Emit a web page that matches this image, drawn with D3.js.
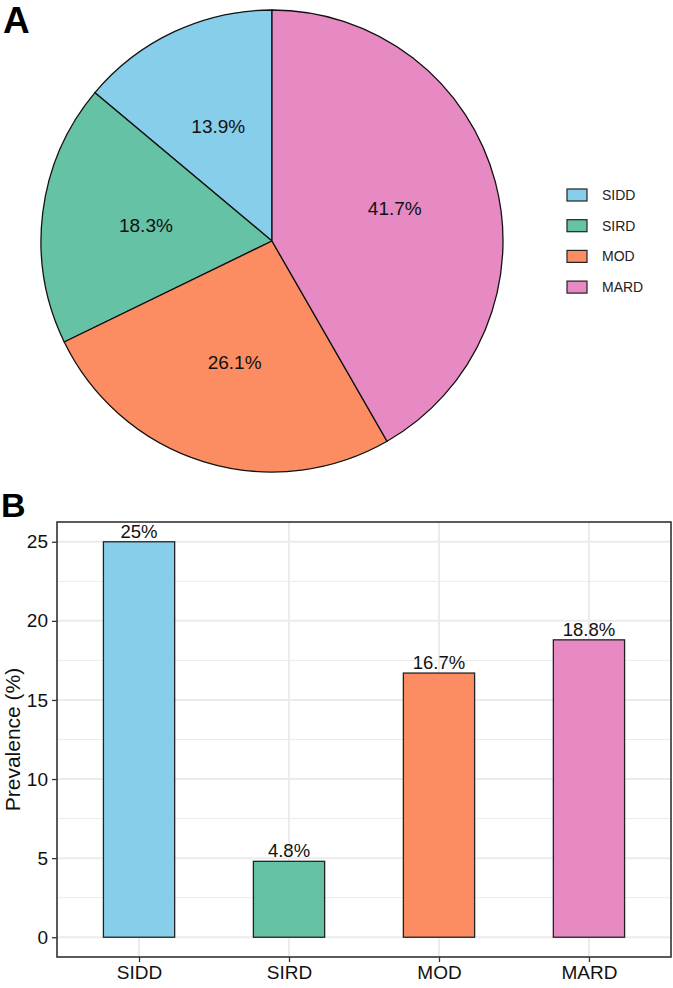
<!DOCTYPE html>
<html>
<head>
<meta charset="utf-8">
<script src="https://cdn.jsdelivr.net/npm/d3@7"></script>
<style>
  body { margin: 0; background: #fff; }
  svg { font-family: "Liberation Sans", Arial, sans-serif; }
</style>
</head>
<body>
<svg id="chart" width="673" height="988"></svg>
<script>
// data
var categories = ["SIDD", "SIRD", "MOD", "MARD"];
var colors = ["#87CEEB", "#66C2A5", "#FC8D62", "#E78AC3"];
var share = [13.9, 18.3, 26.1, 41.7];       // panel A, % of patients
var prevalence = [25, 4.8, 16.7, 18.8];     // panel B
var prevLabels = ["25%", "4.8%", "16.7%", "18.8%"];
var yTicks = [0, 5, 10, 15, 20, 25];
var yMinor = [2.5, 7.5, 12.5, 17.5, 22.5];

var svg = d3.select("#chart");

// ---- Panel A: pie ----
var cx = 272, cy = 241, r = 231;

var pie = d3.pie()
    .sort(null)
    .value(function(d) { return d; })
    .startAngle(0)
    .endAngle(-2 * Math.PI);   // counter-clockwise like the original

var arc = d3.arc().innerRadius(0).outerRadius(r);
var labelArc = d3.arc().innerRadius(r * 0.55).outerRadius(r * 0.55);

var gPie = svg.append("g").attr("transform", "translate(" + cx + "," + cy + ")");

var arcs = pie(share);

gPie.selectAll("path")
    .data(arcs)
    .enter()
    .append("path")
    .attr("d", arc)
    .attr("fill", function(d, i) { return colors[i]; })
    .attr("stroke", "#111")
    .attr("stroke-width", 1.3);

gPie.selectAll("text")
    .data(arcs)
    .enter()
    .append("text")
    .attr("transform", function(d) { return "translate(" + labelArc.centroid(d) + ")"; })
    .attr("text-anchor", "middle")
    .attr("dy", "0.35em")
    .attr("font-size", 19)
    .attr("fill", "#111")
    .text(function(d) { return d.data + "%"; });

// legend
var legend = svg.append("g").attr("transform", "translate(567,189)");
var legItem = legend.selectAll("g")
    .data(categories)
    .enter()
    .append("g")
    .attr("transform", function(d, i) { return "translate(0," + (i * 30.7) + ")"; });

legItem.append("rect")
    .attr("width", 20)
    .attr("height", 12)
    .attr("fill", function(d, i) { return colors[i]; })
    .attr("stroke", "#222")
    .attr("stroke-width", 1.2);

legItem.append("text")
    .attr("x", 35)
    .attr("y", 6)
    .attr("dy", "0.35em")
    .attr("font-size", 14)
    .attr("fill", "#222")
    .text(function(d) { return d; });

svg.append("text")
    .attr("x", 3).attr("y", 33)
    .attr("font-size", 37).attr("font-weight", "bold")
    .text("A");

// ---- Panel B: bars ----
var pLeft = 57, pRight = 671, pTop = 522, pBottom = 957;

var x = d3.scalePoint()
    .domain(categories)
    .range([pLeft, pRight])
    .padding(0.547);

var y = d3.scaleLinear()
    .domain([-1.25, 26.25])
    .range([pBottom, pTop]);

var step = x.step();
var barW = step * 0.475;

var gBar = svg.append("g");

// minor grid
gBar.selectAll("line.minor")
    .data(yMinor)
    .enter()
    .append("line")
    .attr("class", "minor")
    .attr("x1", pLeft).attr("x2", pRight)
    .attr("y1", function(d) { return y(d); })
    .attr("y2", function(d) { return y(d); })
    .attr("stroke", "#ebebeb")
    .attr("stroke-width", 1);

// major grid
gBar.selectAll("line.majorY")
    .data(yTicks)
    .enter()
    .append("line")
    .attr("class", "majorY")
    .attr("x1", pLeft).attr("x2", pRight)
    .attr("y1", function(d) { return y(d); })
    .attr("y2", function(d) { return y(d); })
    .attr("stroke", "#ebebeb")
    .attr("stroke-width", 2);

gBar.selectAll("line.majorX")
    .data(categories)
    .enter()
    .append("line")
    .attr("class", "majorX")
    .attr("x1", function(d) { return x(d); })
    .attr("x2", function(d) { return x(d); })
    .attr("y1", pTop).attr("y2", pBottom)
    .attr("stroke", "#ebebeb")
    .attr("stroke-width", 2);

// bars
gBar.selectAll("rect.bar")
    .data(prevalence)
    .enter()
    .append("rect")
    .attr("class", "bar")
    .attr("x", function(d, i) { return x(categories[i]) - barW / 2; })
    .attr("y", function(d) { return y(d); })
    .attr("width", barW)
    .attr("height", function(d) { return y(0) - y(d); })
    .attr("fill", function(d, i) { return colors[i]; })
    .attr("stroke", "#222")
    .attr("stroke-width", 1.3);

// bar labels
gBar.selectAll("text.lab")
    .data(prevalence)
    .enter()
    .append("text")
    .attr("class", "lab")
    .attr("x", function(d, i) { return x(categories[i]); })
    .attr("y", function(d) { return y(d) - 4; })
    .attr("text-anchor", "middle")
    .attr("font-size", 18.5)
    .attr("fill", "#111")
    .text(function(d, i) { return prevLabels[i]; });

// panel border
gBar.append("rect")
    .attr("x", pLeft).attr("y", pTop)
    .attr("width", pRight - pLeft).attr("height", pBottom - pTop)
    .attr("fill", "none")
    .attr("stroke", "#333")
    .attr("stroke-width", 1.6);

// axes
var yAxis = d3.axisLeft(y).tickValues(yTicks).tickSize(5).tickPadding(4);
var xAxis = d3.axisBottom(x).tickSize(5).tickPadding(4);

var gy = svg.append("g")
    .attr("transform", "translate(" + pLeft + ",0)")
    .call(yAxis);
var gx = svg.append("g")
    .attr("transform", "translate(0," + pBottom + ")")
    .call(xAxis);

[gy, gx].forEach(function(g) {
    g.select(".domain").remove();
    g.selectAll(".tick line").attr("stroke", "#333").attr("stroke-width", 1.3);
    g.selectAll(".tick text")
        .attr("font-size", 19)
        .attr("fill", "#111")
        .attr("font-family", "Liberation Sans, Arial, sans-serif");
});

svg.append("text")
    .attr("transform", "translate(20," + ((pTop + pBottom) / 2) + ") rotate(-90)")
    .attr("text-anchor", "middle")
    .attr("font-size", 21)
    .attr("fill", "#111")
    .text("Prevalence (%)");

svg.append("text")
    .attr("x", 1).attr("y", 517)
    .attr("font-size", 34).attr("font-weight", "bold")
    .text("B");
</script>
</body>
</html>
